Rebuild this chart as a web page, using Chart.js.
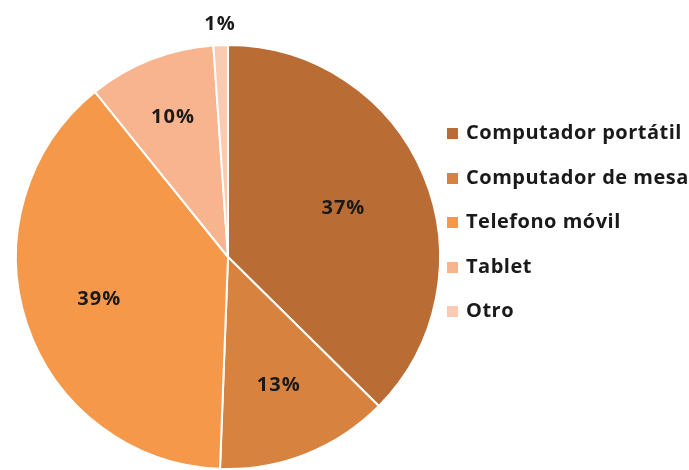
<!DOCTYPE html>
<html>
<head>
<meta charset="utf-8">
<script src="https://cdn.jsdelivr.net/npm/chart.js@4/dist/chart.umd.min.js"></script>
<style>
  body { margin: 0; background: #fff; }
  #wrap { position: relative; width: 689px; height: 470px; }
  #box { position: absolute; left: 0; top: 0; width: 456px; height: 470px; }
  #legend { position: absolute; left: 447px; top: 118px; margin: 0; padding: 0; list-style: none;
    font-family: "Open Sans", sans-serif; font-weight: bold; font-size: 20px; letter-spacing: 0.5px; color: #1a1a1a; }
  #legend li { height: 44.5px; display: flex; align-items: flex-start; white-space: nowrap; }
  #legend span.sq { width: 11px; height: 11px; margin: 10px 8px 0 0; display: inline-block; }
</style>
</head>
<body>
<div id="wrap">
  <div id="box"><canvas id="chart"></canvas></div>
  <ul id="legend"></ul>
</div>
<script>
'use strict';

const labels = ['Computador portátil', 'Computador de mesa', 'Telefono móvil', 'Tablet', 'Otro'];
const shares = [37.4, 13.2, 38.6, 9.7, 1.1];
const colors = ['#B96D34', '#D7823F', '#F5984A', '#F7B48F', '#F9CBB3'];

// how far out each percent label sits (fraction of radius)
const labelRadius = [0.59, 0.65, 0.64, 0.71, 1.1];

const pctLabels = {
  id: 'pctLabels',
  afterDatasetsDraw(chart) {
    const ctx = chart.ctx;
    const meta = chart.getDatasetMeta(0);
    ctx.save();
    ctx.font = 'bold 20px "Open Sans", sans-serif';
    ctx.letterSpacing = '1px';
    ctx.fillStyle = '#1a1a1a';
    ctx.textAlign = 'center';
    ctx.textBaseline = 'middle';
    meta.data.forEach((arc, i) => {
      const mid = (arc.startAngle + arc.endAngle) / 2;
      const r = arc.outerRadius * labelRadius[i];
      const x = arc.x + Math.cos(mid) * r;
      const y = arc.y + Math.sin(mid) * r;
      ctx.fillText(Math.round(shares[i]) + '%', x, y);
    });
    ctx.restore();
  }
};

let canvasElem = document.getElementById('chart');

const config = {
  type: 'pie',
  data: {
    labels: labels,
    datasets: [{
      data: shares,
      backgroundColor: colors,
      borderColor: '#ffffff',
      borderWidth: 2
    }]
  },
  options: {
    responsive: true,
    maintainAspectRatio: false,
    animation: false,
    layout: { padding: { top: 44, bottom: 0, left: 0, right: 0 } },
    plugins: {
      legend: { display: false },
      tooltip: { enabled: false }
    }
  },
  plugins: [pctLabels]
};

const myChart = new Chart(canvasElem, config);

// legend on the right
const legendElem = document.getElementById('legend');
labels.forEach((name, i) => {
  const li = document.createElement('li');
  li.innerHTML = '<span class="sq" style="background:' + colors[i] + '"></span>' + name;
  legendElem.appendChild(li);
});
</script>
</body>
</html>
